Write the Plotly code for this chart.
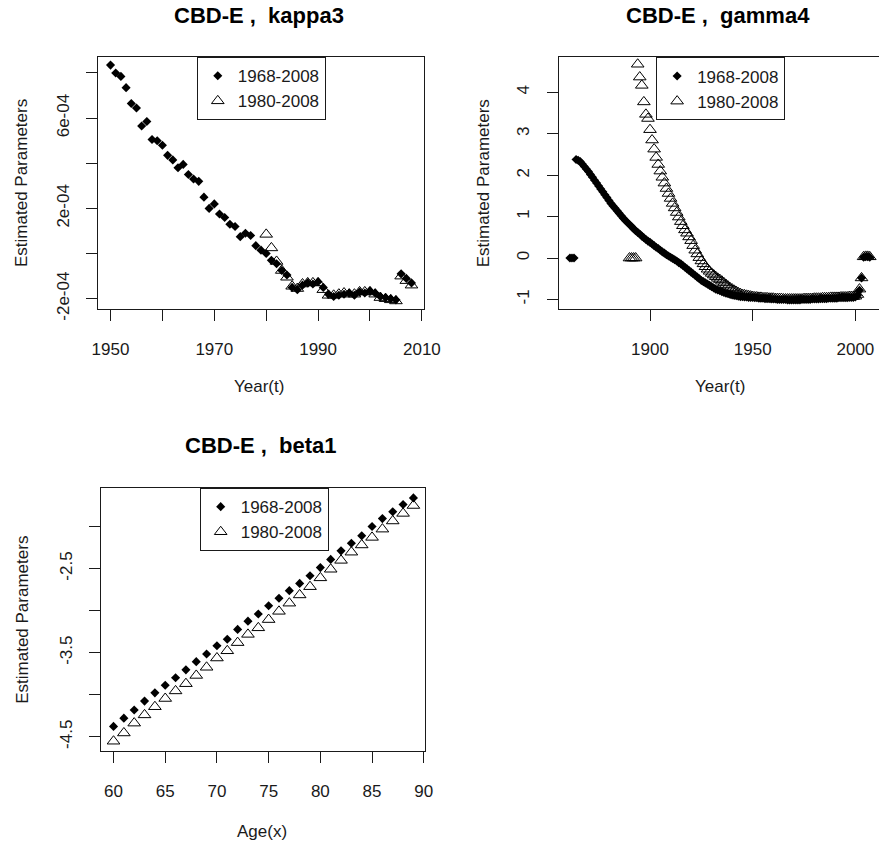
import plotly.graph_objects as go

# ---------------- data ----------------
series_labels = ["1968-2008", "1980-2008"]

# CBD-E, kappa3 (values in units of 1e-04)
k3_years_a = list(range(1950, 2009))
k3_vals_a_e4 = [
    8.35, 8.0, 7.85, 7.35, 6.65, 6.45, 5.65, 5.85, 5.05, 5.0,
    4.8, 4.35, 4.15, 3.8, 3.95, 3.5, 3.3, 3.2, 2.5, 2.0,
    2.2, 1.75, 1.6, 1.3, 1.2, 0.75, 0.9, 0.8, 0.35, 0.15,
    0.0, -0.3, -0.45, -0.75, -0.95, -1.5, -1.6, -1.4, -1.3, -1.35,
    -1.25, -1.5, -1.8, -1.9, -1.85, -1.8, -1.75, -1.85, -1.7, -1.75,
    -1.65, -1.75, -1.9, -1.95, -2.0, -2.05, -0.9, -1.1, -1.3,
]
k3_years_b = list(range(1980, 2009))
k3_vals_b_e4 = [
    0.85, 0.25, -0.35, -0.75, -1.05, -1.45, -1.55, -1.35, -1.3, -1.3,
    -1.3, -1.6, -1.85, -1.85, -1.8, -1.75, -1.8, -1.8, -1.7, -1.7,
    -1.7, -1.8, -1.95, -2.0, -2.05, -2.1, -1.0, -1.2, -1.4,
]

# CBD-E, gamma4
g4_years_a = list(range(1861, 2008))
g4_vals_a = [
    0.0, 0.0, 0.0,
    2.38, 2.36, 2.33, 2.27, 2.21, 2.15,
    2.09, 2.02, 1.95, 1.88, 1.81, 1.74, 1.67, 1.60, 1.53, 1.46,
    1.39, 1.32, 1.26, 1.20, 1.14, 1.08, 1.02, 0.96, 0.91, 0.86,
    0.81, 0.76, 0.71, 0.66, 0.62, 0.58, 0.53, 0.49, 0.45, 0.41,
    0.38, 0.34, 0.30, 0.26, 0.23, 0.19, 0.15, 0.12, 0.08, 0.05,
    0.02, -0.01, -0.04, -0.07, -0.11, -0.14, -0.18, -0.22, -0.26, -0.30,
    -0.34, -0.38, -0.42, -0.46, -0.50, -0.54, -0.57, -0.60, -0.63, -0.66,
    -0.69, -0.72, -0.75, -0.77, -0.79, -0.81, -0.83, -0.85, -0.86, -0.88,
    -0.89, -0.90, -0.91, -0.92, -0.93, -0.93, -0.94, -0.94, -0.95, -0.95,
    -0.95, -0.96, -0.96, -0.97, -0.97, -0.97, -0.98, -0.98, -0.98, -0.99,
    -0.99, -0.99, -1.00, -1.00, -1.00, -1.00, -1.00, -1.01, -1.01, -1.01,
    -1.01, -1.01, -1.01, -1.01, -1.00, -1.00, -1.00, -1.00, -1.00, -0.99,
    -0.99, -0.99, -0.99, -0.98, -0.98, -0.98, -0.98, -0.97, -0.97, -0.97,
    -0.97, -0.97, -0.96, -0.96, -0.96, -0.96, -0.96, -0.95, -0.95, -0.95,
    -0.94, -0.90, -0.78, -0.48, 0.02, 0.03, 0.03, 0.02,
]
g4_years_b = list(range(1890, 2008))
g4_vals_b = [
    0.0, 0.0, 0.0, 0.0,
    4.68, 4.37, 4.17, 3.77, 3.47, 3.37,
    3.10, 2.85, 2.63, 2.43, 2.26, 2.10, 1.95, 1.81, 1.68, 1.56,
    1.44, 1.32, 1.21, 1.10, 0.99, 0.88, 0.78, 0.68, 0.60, 0.51,
    0.42, 0.30, 0.19, 0.10, 0.01, -0.07, -0.14, -0.21, -0.27, -0.32,
    -0.37, -0.41, -0.45, -0.49, -0.52, -0.56, -0.60, -0.64, -0.68, -0.72,
    -0.75, -0.78, -0.81, -0.84, -0.86, -0.88, -0.89, -0.90, -0.91, -0.92,
    -0.93, -0.94, -0.94, -0.95, -0.95, -0.96, -0.96, -0.96, -0.97, -0.97,
    -0.97, -0.98, -0.98, -0.98, -0.98, -0.99, -0.99, -0.99, -0.99, -0.99,
    -0.99, -0.99, -0.99, -0.99, -0.99, -0.98, -0.98, -0.98, -0.98, -0.98,
    -0.97, -0.97, -0.97, -0.97, -0.96, -0.96, -0.96, -0.96, -0.95, -0.95,
    -0.95, -0.95, -0.95, -0.94, -0.94, -0.94, -0.94, -0.93, -0.93, -0.93,
    -0.92, -0.88, -0.75, -0.48, 0.03, 0.04, 0.04, 0.03,
]

# CBD-E, beta1
b1_ages = list(range(60, 90))
b1_vals_a = [
    -4.376, -4.278, -4.181, -4.075, -3.977, -3.887, -3.797, -3.704, -3.606, -3.516,
    -3.418, -3.340, -3.223, -3.125, -3.039, -2.942, -2.852, -2.762, -2.676, -2.586,
    -2.488, -2.391, -2.289, -2.199, -2.109, -2.000, -1.906, -1.824, -1.738, -1.660,
]
b1_vals_b = [
    -4.552, -4.454, -4.337, -4.239, -4.142, -4.044, -3.954, -3.868, -3.770, -3.673,
    -3.563, -3.477, -3.380, -3.282, -3.204, -3.106, -3.008, -2.911, -2.813, -2.715,
    -2.610, -2.508, -2.402, -2.305, -2.219, -2.129, -2.031, -1.934, -1.844, -1.750,
]

# ticks
k3_xticks = [1950, 1960, 1970, 1980, 1990, 2000, 2010]
k3_xtext = ["1950", "", "1970", "", "1990", "", "2010"]
k3_yticks = [-2e-4, 0, 2e-4, 4e-4, 6e-4, 8e-4]
k3_ytext = ["-2e-04", "", "2e-04", "", "6e-04", ""]
g4_xticks = [1900, 1950, 2000]
g4_xtext = ["1900", "1950", "2000"]
g4_yticks = [-1, 0, 1, 2, 3, 4]
g4_ytext = ["-1", "0", "1", "2", "3", "4"]
b1_xticks = [60, 65, 70, 75, 80, 85, 90]
b1_xtext = ["60", "65", "70", "75", "80", "85", "90"]
b1_yticks = [-4.5, -4.0, -3.5, -3.0, -2.5, -2.0]
b1_ytext = ["-4.5", "", "-3.5", "", "-2.5", ""]

titles = ["CBD-E ,  kappa3", "CBD-E ,  gamma4", "CBD-E ,  beta1"]
xtitles = ["Year(t)", "Year(t)", "Age(x)"]
ytitle = "Estimated Parameters"

# ---------------- figure ----------------
W, H = 896, 859
FONT = "Liberation Sans, Arial, Helvetica, sans-serif"
INK = "#1a1a1a"


def fx(p):
    return p / W


def fy(p):
    return 1 - p / H


fig = go.Figure()

filled = dict(symbol="diamond", size=7, color="black", line=dict(width=0))
opent = dict(symbol="triangle-up-open", size=11, color="black",
             line=dict(width=1, color="black"))

panels = [
    (k3_years_a, [v * 1e-4 for v in k3_vals_a_e4], k3_years_b, [v * 1e-4 for v in k3_vals_b_e4], "x", "y", "legend"),
    (g4_years_a, g4_vals_a, g4_years_b, g4_vals_b, "x2", "y2", "legend2"),
    (b1_ages, b1_vals_a, b1_ages, b1_vals_b, "x3", "y3", "legend3"),
]
for xa, ya, xb, yb, xr, yr, lg in panels:
    fig.add_trace(go.Scatter(x=xa, y=ya, mode="markers", marker=filled,
                             name=series_labels[0], xaxis=xr, yaxis=yr, legend=lg,
                             hoverinfo="skip"))
    fig.add_trace(go.Scatter(x=xb, y=yb, mode="markers", marker=opent,
                             name=series_labels[1], xaxis=xr, yaxis=yr, legend=lg,
                             hoverinfo="skip"))

common = dict(showline=True, linecolor=INK, linewidth=1, ticks="outside",
              ticklen=11, tickwidth=1, tickcolor=INK, showgrid=False,
              zeroline=False, tickfont=dict(family=FONT, size=17, color=INK),
              tickmode="array")

fig.update_layout(
    width=W, height=H, autosize=False, margin=dict(l=0, r=0, t=0, b=0),
    plot_bgcolor="white", paper_bgcolor="white",
    xaxis=dict(domain=[fx(94), fx(428)], range=[1947.68, 2010.32],
               tickvals=k3_xticks, ticktext=k3_xtext, mirror=True,
               anchor="y", ticklabelstandoff=14, **common),
    yaxis=dict(domain=[fy(313), fy(58)], range=[-2.44e-4, 8.70e-4],
               tickvals=k3_yticks, ticktext=k3_ytext, mirror=True,
               anchor="x", tickangle=-90, ticklabelstandoff=11, **common),
    xaxis2=dict(domain=[fx(566.7), 1.0], range=[1855.45, 2011.5],
                tickvals=g4_xticks, ticktext=g4_xtext, mirror=True,
                anchor="y2", ticklabelstandoff=14, **common),
    yaxis2=dict(domain=[fy(313), fy(58.3)], range=[-1.221, 4.843],
                tickvals=g4_yticks, ticktext=g4_ytext, mirror=False,
                anchor="x2", tickangle=-90, ticklabelstandoff=11, **common),
    xaxis3=dict(domain=[fx(96.7), fx(429.3)], range=[58.8, 90.1],
                tickvals=b1_xticks, ticktext=b1_xtext, mirror=True,
                anchor="y3", ticklabelstandoff=14, **common),
    yaxis3=dict(domain=[fy(761.7), fy(495)], range=[-4.669, -1.543],
                tickvals=b1_yticks, ticktext=b1_ytext, mirror=True,
                anchor="x3", tickangle=-90, ticklabelstandoff=10, **common),
    showlegend=True,
)

leg_common = dict(bgcolor="white", bordercolor=INK, borderwidth=1,
                  font=dict(family=FONT, size=17, color=INK),
                  xanchor="left", yanchor="top", traceorder="normal",
                  itemclick=False, itemdoubleclick=False)
fig.update_layout(
    legend=dict(x=fx(195), y=fy(58), **leg_common),
    legend2=dict(x=fx(667), y=fy(58.3), **leg_common),
    legend3=dict(x=fx(198), y=fy(495), **leg_common),
)

anns = []
# titles
for t, cx, cy in zip(titles, [259, 731, 261], [16, 16, 452]):
    anns.append(dict(text="<b>" + t + "</b>", x=fx(cx), y=fy(cy), xref="paper", yref="paper",
                     xanchor="center", yanchor="middle", showarrow=False,
                     font=dict(family=FONT, size=22, color="black")))
# x titles
for t, cx, cy in zip(xtitles, [259, 733, 262], [392, 392, 843]):
    anns.append(dict(text=t, x=fx(cx), y=fy(cy), xref="paper", yref="paper",
                     xanchor="center", yanchor="middle", showarrow=False,
                     font=dict(family=FONT, size=17, color=INK)))
# y titles
for cx, cy in [(15, 186), (489, 186), (16, 629)]:
    anns.append(dict(text=ytitle, x=fx(cx), y=fy(cy), xref="paper", yref="paper",
                     xanchor="center", yanchor="middle", showarrow=False, textangle=-90,
                     font=dict(family=FONT, size=17, color=INK)))
fig.update_layout(annotations=anns)

fig.write_html("out.html", config={"displayModeBar": False})
